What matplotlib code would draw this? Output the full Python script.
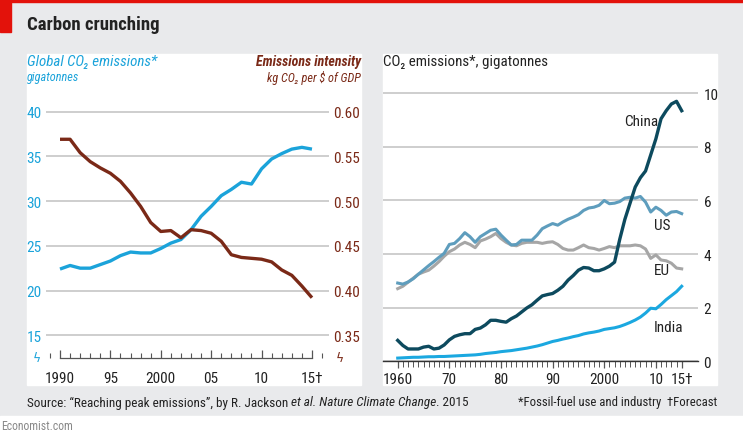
import matplotlib
matplotlib.use("Agg")
import matplotlib.pyplot as plt
from matplotlib.patches import Rectangle
from matplotlib.ticker import MultipleLocator, FixedLocator

plt.rcParams['font.family'] = ['Roboto Condensed', 'Liberation Sans Narrow', 'Lato', 'DejaVu Sans']

# ---- data: left panel (global) ----
years_global = list(range(1990, 2016))
global_co2 = [22.4, 22.8, 22.5, 22.5, 22.9, 23.3, 23.9, 24.3, 24.2, 24.2,
              24.7, 25.3, 25.7, 26.8, 28.3, 29.4, 30.6, 31.3, 32.1, 31.9,
              33.6, 34.7, 35.3, 35.8, 36.0, 35.8]
intensity = [0.569, 0.569, 0.554, 0.544, 0.537, 0.531, 0.522, 0.509, 0.494, 0.476,
             0.466, 0.467, 0.459, 0.468, 0.467, 0.464, 0.455, 0.440, 0.437, 0.436,
             0.435, 0.432, 0.423, 0.417, 0.405, 0.392]
left_xticks = [1990, 1995, 2000, 2005, 2010, 2015]
left_xlabels = ["1990", "95", "2000", "05", "10", "15\u2020"]
left_yticks = [15, 20, 25, 30, 35, 40]
right_yticks = [0.35, 0.40, 0.45, 0.50, 0.55, 0.60]

# ---- data: right panel (by country) ----
years_country = list(range(1960, 2016))
china = [0.78, 0.59, 0.46, 0.46, 0.46, 0.53, 0.56, 0.46, 0.49, 0.61,
         0.80, 0.93, 0.99, 1.03, 1.03, 1.19, 1.24, 1.36, 1.53, 1.53,
         1.49, 1.46, 1.59, 1.69, 1.84, 1.99, 2.11, 2.28, 2.44, 2.49,
         2.53, 2.65, 2.80, 3.03, 3.20, 3.40, 3.50, 3.48, 3.38, 3.38,
         3.45, 3.55, 3.70, 4.55, 5.30, 5.90, 6.50, 6.85, 7.10, 7.70,
         8.30, 9.05, 9.35, 9.60, 9.70, 9.35]
us = [2.92, 2.88, 2.96, 3.08, 3.25, 3.41, 3.57, 3.72, 3.88, 4.03,
      4.36, 4.40, 4.58, 4.80, 4.65, 4.44, 4.65, 4.77, 4.89, 4.93,
      4.71, 4.52, 4.34, 4.36, 4.52, 4.52, 4.52, 4.71, 4.95, 5.05,
      5.14, 5.08, 5.20, 5.30, 5.38, 5.47, 5.63, 5.72, 5.75, 5.82,
      6.00, 5.88, 5.90, 5.96, 6.09, 6.12, 6.09, 6.15, 5.94, 5.57,
      5.75, 5.63, 5.45, 5.57, 5.59, 5.51]
eu = [2.71, 2.80, 2.95, 3.10, 3.25, 3.33, 3.40, 3.55, 3.72, 3.92,
      4.09, 4.19, 4.34, 4.44, 4.36, 4.24, 4.49, 4.56, 4.65, 4.77,
      4.58, 4.44, 4.34, 4.31, 4.40, 4.44, 4.44, 4.44, 4.40, 4.44,
      4.46, 4.36, 4.21, 4.15, 4.15, 4.24, 4.34, 4.24, 4.21, 4.15,
      4.21, 4.28, 4.24, 4.31, 4.31, 4.31, 4.34, 4.31, 4.19, 3.84,
      3.97, 3.78, 3.75, 3.66, 3.48, 3.45]
india = [0.12, 0.13, 0.14, 0.15, 0.15, 0.16, 0.17, 0.17, 0.18, 0.18,
         0.19, 0.20, 0.21, 0.22, 0.23, 0.24, 0.26, 0.29, 0.31, 0.33,
         0.36, 0.38, 0.40, 0.43, 0.46, 0.49, 0.53, 0.57, 0.62, 0.68,
         0.74, 0.78, 0.83, 0.87, 0.92, 0.96, 1.02, 1.06, 1.09, 1.13,
         1.19, 1.22, 1.25, 1.30, 1.37, 1.45, 1.54, 1.65, 1.80, 1.98,
         1.96, 2.12, 2.30, 2.45, 2.60, 2.80]
country_xticks = [1960, 1970, 1980, 1990, 2000, 2010, 2015]
country_xlabels = ["1960", "70", "80", "90", "2000", "10", "15\u2020"]
country_yticks = [0, 2, 4, 6, 8, 10]

# colours
BG = "#e9eaec"
BLUE = "#1ba3da"
BROWN = "#7a2917"
CHINA = "#0d4a5e"
US = "#5e9dbd"
EU = "#a6a6a6"
INDIA = "#1ba8e0"
GRID = "#c6c6c6"
TXT = "#222222"

W, H = 743, 435
fig = plt.figure(figsize=(W / 100, H / 100), dpi=100, facecolor=BG)


def fx(px):
    return px / W


def fy(py):
    return 1 - py / H


# background decorations
fig.patches.append(Rectangle((0, fy(3)), 1, fy(0) - fy(3), transform=fig.transFigure,
                             color="#e3120b", zorder=-5))
fig.patches.append(Rectangle((0, fy(33)), fx(11), fy(0) - fy(33), transform=fig.transFigure,
                             color="#e3120b", zorder=-5))
fig.patches.append(Rectangle((0, 0), 1, fy(417), transform=fig.transFigure,
                             color="white", zorder=-5))
for x0, x1 in [(27, 361), (383, 717)]:
    fig.patches.append(Rectangle((fx(x0), fy(386)), fx(x1) - fx(x0), fy(55) - fy(386),
                                 transform=fig.transFigure, color="white", zorder=-5))

fig.text(fx(27), fy(25), "Carbon crunching", fontsize=13.5, fontweight="bold",
         color=TXT, va="center", ha="left")

# ---------- left panel ----------
ax = fig.add_axes([fx(46), fy(359.3), fx(329) - fx(46), fy(100) - fy(359.3)])
ax.set_facecolor("white")
ylo, yhi = 12.43, 41.4
ax.set_ylim(ylo, yhi)
ax.set_xlim(1988.61, 2016.69)
for s in ["top", "left", "right"]:
    ax.spines[s].set_visible(False)
ax.spines["bottom"].set_bounds(1990, 2015)
ax.spines["bottom"].set_color("#555555")
ax.spines["bottom"].set_linewidth(0.9)
ax.set_yticks(left_yticks)
ax.yaxis.grid(True, color=GRID, lw=1.2)
ax.set_axisbelow(True)
ax.tick_params(axis="y", length=0, labelcolor=BLUE, labelsize=11, pad=3)
ax.set_xticks(left_xticks)
ax.set_xticklabels(left_xlabels)
ax.xaxis.set_minor_locator(MultipleLocator(1))
ax.tick_params(axis="x", which="major", direction="in", length=6, width=0.9,
               color="#555555", labelsize=11, labelcolor=TXT, pad=9)
ax.tick_params(axis="x", which="minor", direction="in", length=3.5, width=0.8,
               color="#555555")
ax.plot(years_global, global_co2, color=BLUE, lw=2.4, solid_capstyle="butt", zorder=3)

ax2 = ax.twinx()
ax2.set_ylim(0.35 + (ylo - 15) / 100, 0.35 + (yhi - 15) / 100)
for s in ax2.spines.values():
    s.set_visible(False)
ax2.set_yticks(right_yticks)
ax2.set_yticklabels([f"{v:.2f}" for v in right_yticks])
ax2.tick_params(axis="y", length=0, labelcolor=BROWN, labelsize=11, pad=3)
ax2.plot(years_global, intensity, color=BROWN, lw=2.4, solid_capstyle="butt", zorder=3)

fig.text(fx(27), fy(62), "Global CO\u2082 emissions*", fontsize=10.8, style="italic",
         color=BLUE, va="center")
fig.text(fx(27), fy(78), "gigatonnes", fontsize=8.8, style="italic", color=BLUE, va="center")
fig.text(fx(361), fy(62), "Emissions intensity", fontsize=10, style="italic",
         fontweight="bold", color=BROWN, va="center", ha="right")
fig.text(fx(361), fy(78), "kg CO\u2082 per $ of GDP", fontsize=8.8, style="italic",
         color=BROWN, va="center", ha="right")
fig.text(fx(37), fy(359), "\u03df", fontsize=9, color=BLUE, ha="center", va="center",
         family="DejaVu Sans")
fig.text(fx(340), fy(359), "\u03df", fontsize=9, color=BROWN, ha="center", va="center",
         family="DejaVu Sans")

# ---------- right panel ----------
bx = fig.add_axes([fx(383), fy(362.3), fx(698) - fx(383), fy(88) - fy(362.3)])
bx.set_facecolor("white")
bx.set_ylim(0, 10.235)
bx.set_xlim(1957.15, 2018.16)
for s in ["top", "left", "right"]:
    bx.spines[s].set_visible(False)
bx.spines["bottom"].set_color("#333333")
bx.spines["bottom"].set_linewidth(1.0)
bx.yaxis.tick_right()
bx.set_yticks(country_yticks)
bx.yaxis.grid(True, color=GRID, lw=1.2)
bx.set_axisbelow(True)
bx.tick_params(axis="y", length=0, labelcolor=TXT, labelsize=11, pad=4)
bx.set_xticks(country_xticks)
bx.set_xticklabels(country_xlabels)
bx.xaxis.set_minor_locator(FixedLocator(years_country))
bx.tick_params(axis="x", which="major", direction="out", length=5, width=0.9,
               color="#555555", labelsize=11, labelcolor=TXT, pad=3)
bx.tick_params(axis="x", which="minor", direction="out", length=4, width=0.7,
               color="#555555")

bx.plot(years_country, eu, color=EU, lw=2.2, zorder=3)
bx.plot(years_country, us, color=US, lw=2.2, zorder=4)
bx.plot(years_country, india, color=INDIA, lw=2.2, zorder=4)
bx.plot(years_country, china, color=CHINA, lw=2.4, zorder=5)

lab = dict(fontsize=11, color=TXT, va="center")
bx.text(2010.5, 8.95, "China", ha="right", **lab)
bx.text(2009.6, 5.1, "US", ha="left", **lab)
bx.text(2009.6, 3.4, "EU", ha="left", **lab)
bx.text(2009.6, 1.28, "India", ha="left", **lab)

fig.text(fx(383), fy(62), "CO\u2082 emissions*, gigatonnes", fontsize=10.8, color=TXT,
         va="center")

# ---------- footer ----------
renderer = fig.canvas.get_renderer()
x = fx(27)
pieces = [("Source: \u201cReaching peak emissions\u201d, by R. Jackson ", "normal"),
          ("et al. Nature Climate Change", "italic"),
          (". 2015", "normal")]
for txt, st in pieces:
    t = fig.text(x, fy(403), txt, fontsize=9.5, color=TXT, va="center", style=st)
    bb = t.get_window_extent(renderer)
    x += bb.width / W
fig.text(fx(717), fy(403), "*Fossil-fuel use and industry  \u2020Forecast", fontsize=9.2,
         color=TXT, va="center", ha="right")
fig.text(fx(1), fy(427), "Economist.com", fontsize=8.5, color="#888888", va="center")

fig.savefig("out.png", dpi=100, facecolor=BG)
